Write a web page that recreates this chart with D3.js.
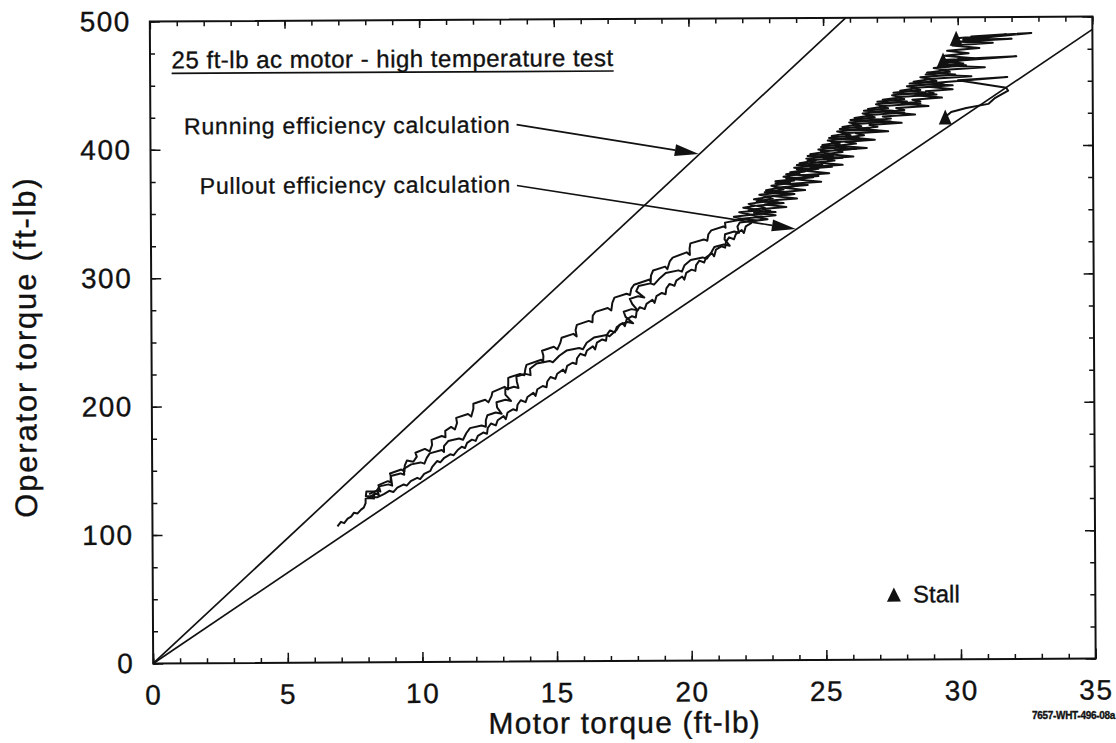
<!DOCTYPE html>
<html>
<head>
<meta charset="utf-8">
<title>Operator torque vs motor torque</title>
<script src="https://cdn.jsdelivr.net/npm/d3@7/dist/d3.min.js"></script>
<style>
  body { margin: 0; background: #fff; }
  #chart svg { display: block; }
  text { font-family: "Liberation Sans", Arial, Helvetica, sans-serif; fill: #111; stroke: #111; stroke-width: 0.35px; }
</style>
</head>
<body>
<div id="chart"></div>
<script>
// 25 ft-lb ac motor, high temperature test: operator torque against motor torque
var xTickLabels = [0, 5, 10, 15, 20, 25, 30, 35];
var yTickLabels = [0, 100, 200, 300, 400, 500];

// efficiency calculation lines [motor torque, operator torque]
var runningLine = [[0, 0], [25.84, 500]];
var pulloutLine = [[0, 0], [35, 490]];

// stall at the end of each run
var stallPoints = [[29.94, 483.6], [29.45, 466.7], [29.52, 422.3]];

// test runs [motor torque, operator torque]
var run1 = [
  [8.05,131],[8.37,134],[8.47,133],[8.4,138],[8.75,141],[8.85,140],[8.86,145],[8.83,147],[9.25,150],[9.37,148.5],
  [9.38,153],[9.46,157],[9.7,156],[9.83,160],[9.78,163],[10.13,166],[10.31,164],[10.4,169],[10.38,173],[10.76,176],
  [10.9,175],[10.89,180],[11.11,183],[11.25,181],[11.33,186],[11.3,190],[11.74,193],[11.86,191],[11.94,197],[11.94,201],
  [12.38,204],[12.5,202],[12.62,207],[12.65,210],[13.1,214],[13.23,212],[13.24,217],[13.24,221],[13.68,224],[13.84,223],
  [13.88,228],[13.92,231],[14.47,235],[14.54,233],[14.55,238],[14.5,242],[14.94,245],[15.07,243],[15.18,248],[15.23,252],
  [15.67,255],[15.79,253],[15.75,258],[15.8,262],[16.24,265],[16.38,264],[16.39,269],[16.49,272],[16.95,275],[17.08,273],
  [17.12,279],[17.2,283],[17.65,286],[17.78,285],[17.83,290],[17.93,293],[18.51,297],[18.55,295],[18.56,300],[18.64,304],
  [19.09,307],[19.17,305],[19.26,311],[19.37,314],[19.89,318],[20.01,316],[20.0,321],[20.03,325],[20.53,328],[20.66,327],
  [20.7,332],[20.81,335],[21.26,338],[21.34,337],[21.32,341],
  [22.0,343.5],[21.65,345.5],[22.3,347],[21.85,349],[22.65,350.5],[22.0,352.5],[22.45,354],[22.2,355.5],[22.95,357.5],[22.4,359],
  [23.0,361],[22.6,362.5],[23.55,364.5],[22.85,366],[23.35,368],[23.05,369.5],[23.75,371.5],[23.2,373],[24.2,375],[23.5,376.5],
  [24.1,378.5],[23.75,380],[24.55,382],[23.9,383.5],[24.95,385.5],[24.1,387],[24.7,389],[24.35,390.5],[25.35,392.5],[24.5,394],
  [25.15,396],[24.8,397.5],[25.85,399.5],[24.95,401],[25.6,403],[25.15,404.5],[26.3,406.5],[25.3,408],[25.9,410],[25.5,411.5],
  [26.7,413.5],[25.7,415],[26.3,417],[25.95,418.5],[27.2,420.5],[26.15,422],[26.8,424],[26.45,425.5],[27.6,427.5],[26.65,429],
  [27.3,431],[26.95,432.5],[28.1,434.5],[27.2,436],[27.9,438],[27.55,439.5],[28.8,441.5],[27.85,443],[28.5,445],[28.1,446.5],
  [29.4,448.5],[28.35,450],[29.0,452],[28.6,453.5],[29.9,455.5],[28.85,457],[29.6,459],[29.1,460.5],[30.3,462.5],[29.35,464],
  [30.6,468],[29.5,470],[30.4,472],[29.6,474],[30.8,476],[29.8,478],[31.3,480],[30.0,481],[32.0,483],[30.2,482.5],
  [32.73,487.5],[30.5,485],[31.8,486.5],[29.94,483.6]
];

var run2 = [
  [8.0,128],[8.31,131.5],[8.42,130],[8.35,134],[8.43,137],[8.77,138.5],[8.91,137.5],[8.88,142],[8.86,145],[9.22,147],
  [9.36,146],[9.34,150.5],[9.62,154],[9.97,155.5],[10.11,154.5],[10.2,159],[10.31,162.5],[10.76,165],[10.84,163.5],[10.84,168],
  [11.0,172],[11.4,174],[11.55,173],[11.67,178],[11.81,182],[12.24,184],[12.4,183],[12.4,188],[12.46,192],[12.77,194],
  [12.99,193],[12.82,198],[12.8,202],[13.13,204],[13.34,203],[13.13,208],[13.13,212],[13.45,214],[13.62,213],[13.56,218],
  [13.54,222],[13.88,224],[14.07,223],[14.05,228],[14.3,232],[14.78,234],[14.9,233],[15.14,238],[15.41,242],[15.88,244],
  [16.02,243],[16.16,248],[16.43,252],[16.9,254],[17.01,253],[17.28,258],[17.39,262],[17.68,264],[17.89,263],[17.61,268],
  [17.54,272],[17.83,274],[18.06,273],[17.86,278],[17.77,282],[18.08,284],[18.31,283],[18.01,288],[18.1,292],[18.54,294],
  [18.67,293],[18.89,298],[19.11,302],[19.58,304],[19.71,303],[19.81,308],[20.04,312],[20.48,314],[20.64,313],[20.81,318],
  [20.92,322],[21.27,324],[21.49,323],[21.3,328],[21.32,332],[21.66,334],[21.84,333],[21.78,338],[21.87,341],
  [22.5,342.5],[21.95,344],[22.7,345.5],[22.3,347],[23.2,349],[22.2,350.5],[22.8,352.5],[22.5,354],[23.5,356],[22.5,357.5],
  [23.1,359.5],[22.8,361],[23.9,363],[22.8,364.5],[23.5,366.5],[23.2,368],[24.4,370],[23.2,371.5],[23.9,373.5],[23.6,375],
  [24.8,377],[23.6,378.5],[24.3,380.5],[24.0,382],[25.3,384],[24.0,385.5],[24.7,387.5],[24.4,389],[25.7,391],[24.4,392.5],
  [25.2,394.5],[24.9,396],[26.2,398],[24.9,399.5],[25.6,401.5],[25.3,403],[26.6,405],[25.2,406.5],[26.0,408.5],[25.7,410],
  [27.0,412],[25.6,413.5],[26.4,415.5],[26.1,417],[27.5,419],[26.0,420.5],[26.9,422.5],[26.6,424],[28.0,426],[26.5,427.5],
  [27.4,429.5],[27.1,431],[28.6,433],[27.0,434.5],[28.0,436.5],[27.7,438],[29.2,440],[27.6,441.5],[28.6,443.5],[28.3,445],
  [29.8,447],[28.2,448.5],[29.2,450.5],[28.9,452],[30.5,454],[28.8,455.5],[29.7,457.5],[29.4,459],[31.0,461],[29.3,462.5],
  [30.2,464],[29.6,465.5],[32.17,469.4],[30.0,467.5],[31.2,468.5],[29.45,466.7]
];

var run3 = [
  [6.87,106],[7.0,109.5],[7.12,108.5],[7.25,112],[7.38,113.5],[7.48,116.5],[7.62,116],[7.75,119],[7.85,120.5],[7.92,124],
  [7.92,127.5],[8.05,128],[8.23,127.5],[8.25,133],[7.95,133],[7.93,129.5],[8.35,128.5],[8.6,131],[8.8,133.5],[8.95,132.5],
  [9.1,136],[9.34,138.4],[9.45,137.5],[9.6,141],[9.84,143.5],[9.95,142.5],[10.1,146.5],[10.33,148.8],[10.4,152],[10.58,156.5],
  [10.7,155.5],[10.85,159],[11.07,161.7],[11.2,161],[11.35,165],[11.5,167.5],[11.62,166.5],[11.7,170.5],[11.88,173],[12.02,172],
  [12.1,176],[12.3,178.5],[12.44,177.5],[12.47,182],[12.59,185.5],[12.77,184],[12.84,188],[13.06,191.2],[13.14,188.8],
  [13.21,194],[13.41,196.5],[13.55,195.5],[13.58,200],[13.7,203.5],[13.88,202],[13.95,206],[14.17,209.2],[14.25,206.8],
  [14.32,212],[14.52,214.5],[14.66,213.5],[14.69,218],[14.81,221.5],[14.99,220],[15.06,224],[15.28,227.2],[15.36,224.8],
  [15.43,230],[15.63,232.5],[15.77,231.5],[15.8,236],[15.92,239.5],[16.1,238],[16.17,242],[16.39,245.2],[16.47,242.8],
  [16.54,248],[16.74,250.5],[16.88,249.5],[16.91,254],[17.03,257.5],[17.21,256],[17.28,260],[17.5,263.2],[17.58,260.8],
  [17.65,266],[17.85,268.5],[17.99,267.5],[18.02,272],[18.14,275.5],[18.32,274],[18.39,278],[18.61,281.2],[18.69,278.8],
  [18.76,284],[18.96,286.5],[19.1,285.5],[19.13,290],[19.25,293.5],[19.43,292],[19.5,296],[19.72,299.2],[19.8,296.8],
  [19.87,302],[20.07,304.5],[20.21,303.5],[20.24,308],[20.36,311.5],[20.54,310],[20.61,314],[20.83,317.2],[20.91,314.8],
  [20.98,320],[21.18,322.5],[21.32,321.5],[21.35,326],[21.47,329.5],[21.65,328],[21.72,332],[21.94,335.2],[22.02,332.8],
  [22.09,338],[22.29,340.5],
  [22.3,342],[22.9,343.5],[22.5,345],[23.2,346.5],[22.4,348.5],[23.0,350],[22.7,351.5],[23.6,353],[22.8,355],[23.3,356.5],
  [23.0,358],[24.0,359.5],[23.1,361.5],[23.9,363],[23.4,364.5],[24.3,366],[23.5,368],[24.0,369.5],[23.8,371],[24.9,372.5],
  [23.9,374.5],[24.6,376],[24.2,377.5],[25.2,379],[24.3,381],[24.8,382.5],[24.5,384],[25.7,385.5],[24.7,387.5],[25.4,389],
  [25.0,390.5],[26.1,392],[25.1,394],[25.7,395.5],[25.4,397],[26.6,398.5],[25.5,400.5],[26.2,402],[25.8,403.5],[26.9,405],
  [25.9,407],[26.5,408.5],[26.2,410],[27.4,411.5],[26.3,413.5],[27.0,415],[26.7,416.5],[27.9,418],[26.8,420],[27.5,421.5],
  [27.2,423],[28.4,424.5],[27.3,426.5],[28.0,428],[27.7,429.5],[28.9,431],[27.9,433],[28.6,434.5],[28.3,436],[29.4,437.5],
  [28.4,439.5],[29.1,441],[28.8,442.5],[29.8,444],[28.9,446],[29.5,447.5],[29.2,449],[31.83,453.3],[30.0,450.9],[31.79,444.9],
  [31.86,442.6],[31.38,437.1],[31.12,432.4],[30.3,429.3],[29.74,426.2],[29.52,422.3]
];

(function(d3) {
  'use strict';

  var width = 1116;
  var height = 743;
  var left = 151.5, right = 1094, top = 19, bottom = 661;

  var x = d3.scaleLinear().domain([0, 35]).range([left, right]);
  var y = d3.scaleLinear().domain([0, 500]).range([bottom, top]);

  var svg = d3.select('#chart')
    .append('svg')
    .attr('width', width)
    .attr('height', height);

  svg.append('rect')
    .attr('width', width)
    .attr('height', height)
    .attr('fill', '#fff');

  // the scanned page sits a little crooked
  var g = svg.append('g')
    .attr('transform', 'rotate(-0.3 623 340)');

  var xMinor = d3.range(0, 36, 1);
  var yMinor = d3.range(0, 501, 25);

  function tidy(sel) {
    sel.select('.domain').remove();
    sel.selectAll('.tick line').attr('stroke', '#111').attr('stroke-width', 1.5);
    sel.selectAll('.tick text').attr('font-size', 28).style('letter-spacing', '1.5px');
  }

  // bottom
  g.append('g')
    .attr('transform', 'translate(0,' + bottom + ')')
    .call(d3.axisBottom(x).tickValues(xMinor).tickSize(-5).tickFormat(''))
    .call(tidy);
  g.append('g')
    .attr('transform', 'translate(0,' + bottom + ')')
    .call(d3.axisBottom(x).tickValues(xTickLabels).tickSize(-10).tickPadding(21).tickFormat(d3.format('d')))
    .call(tidy);

  // top
  g.append('g')
    .attr('transform', 'translate(0,' + top + ')')
    .call(d3.axisTop(x).tickValues(xMinor).tickSize(-5).tickFormat(''))
    .call(tidy);
  g.append('g')
    .attr('transform', 'translate(0,' + top + ')')
    .call(d3.axisTop(x).tickValues(xTickLabels).tickSize(-8).tickFormat(''))
    .call(tidy);

  // left
  g.append('g')
    .attr('transform', 'translate(' + left + ',0)')
    .call(d3.axisLeft(y).tickValues(yMinor).tickSize(-5).tickFormat(''))
    .call(tidy);
  g.append('g')
    .attr('transform', 'translate(' + left + ',0)')
    .call(d3.axisLeft(y).tickValues(yTickLabels).tickSize(-10).tickPadding(19).tickFormat(d3.format('d')))
    .call(tidy);

  // right
  g.append('g')
    .attr('transform', 'translate(' + right + ',0)')
    .call(d3.axisRight(y).tickValues(yMinor).tickSize(-5).tickFormat(''))
    .call(tidy);
  g.append('g')
    .attr('transform', 'translate(' + right + ',0)')
    .call(d3.axisRight(y).tickValues(yTickLabels).tickSize(-10).tickFormat(''))
    .call(tidy);

  g.append('rect')
    .attr('x', left)
    .attr('y', top)
    .attr('width', right - left)
    .attr('height', bottom - top)
    .attr('fill', 'none')
    .attr('stroke', '#111')
    .attr('stroke-width', 2);

  // axis titles
  g.append('text')
    .attr('x', (left + right) / 2)
    .attr('y', 733)
    .attr('text-anchor', 'middle')
    .attr('font-size', 30)
    .style('letter-spacing', '1.2px')
    .text('Motor torque (ft-lb)');

  g.append('text')
    .attr('transform', 'translate(36,' + ((top + bottom) / 2 + 4) + ') rotate(-90)')
    .attr('text-anchor', 'middle')
    .attr('font-size', 31)
    .style('letter-spacing', '1.8px')
    .text('Operator torque (ft-lb)');

  var line = d3.line()
    .x(function(d) { return x(d[0]); })
    .y(function(d) { return y(d[1]); });

  g.selectAll('.calc')
    .data([runningLine, pulloutLine])
    .enter()
    .append('path')
    .attr('class', 'calc')
    .attr('d', line)
    .attr('fill', 'none')
    .attr('stroke', '#111')
    .attr('stroke-width', 1.7);

  g.selectAll('.run')
    .data([run1, run2, run3])
    .enter()
    .append('path')
    .attr('class', 'run')
    .attr('d', line)
    .attr('fill', 'none')
    .attr('stroke', '#111')
    .attr('stroke-width', 2)
    .attr('stroke-linejoin', 'round');

  function triangle(cx, cy, w, h) {
    return 'M' + cx + ',' + (cy - h / 2) +
      'L' + (cx + w / 2) + ',' + (cy + h / 2) +
      'L' + (cx - w / 2) + ',' + (cy + h / 2) + 'Z';
  }

  g.selectAll('.stall')
    .data(stallPoints)
    .enter()
    .append('path')
    .attr('class', 'stall')
    .attr('d', function(d) { return triangle(x(d[0]), y(d[1]), 13, 15); })
    .attr('fill', '#111');

  // title, underlined
  var title = g.append('text')
    .attr('x', x(0.8))
    .attr('y', y(463.4))
    .attr('font-size', 24)
    .style('letter-spacing', '0.5px')
    .text('25 ft-lb ac motor - high temperature test');
  var tw = title.node().getComputedTextLength();
  g.append('line')
    .attr('x1', x(0.8))
    .attr('x2', x(0.8) + tw)
    .attr('y1', y(463.4) + 5)
    .attr('y2', y(463.4) + 5)
    .attr('stroke', '#111')
    .attr('stroke-width', 1.6);

  // arrows to the efficiency lines
  var notes = [
    { label: 'Running efficiency calculation', at: [13.38, 412], from: [13.6, 418.2], to: [20.36, 394.6] },
    { label: 'Pullout efficiency calculation', at: [13.38, 365.5], from: [13.6, 370.7], to: [23.95, 335.7] }
  ];

  notes.forEach(function(n) {
    g.append('text')
      .attr('x', x(n.at[0]))
      .attr('y', y(n.at[1]))
      .attr('text-anchor', 'end')
      .attr('font-size', 23)
      .style('letter-spacing', '0.8px')
      .text(n.label);

    var x1 = x(n.from[0]), y1 = y(n.from[1]);
    var x2 = x(n.to[0]), y2 = y(n.to[1]);
    var a = Math.atan2(y2 - y1, x2 - x1);
    var len = 24, half = 6;
    var bx = x2 - len * Math.cos(a), by = y2 - len * Math.sin(a);

    g.append('line')
      .attr('x1', x1).attr('y1', y1)
      .attr('x2', bx).attr('y2', by)
      .attr('stroke', '#111')
      .attr('stroke-width', 1.6);

    g.append('path')
      .attr('d', 'M' + x2 + ',' + y2 +
        'L' + (bx + half * Math.sin(a)) + ',' + (by - half * Math.cos(a)) +
        'L' + (bx - half * Math.sin(a)) + ',' + (by + half * Math.cos(a)) + 'Z')
      .attr('fill', '#111');
  });

  // legend
  g.append('path')
    .attr('d', triangle(x(27.52), y(50.6), 14, 14))
    .attr('fill', '#111');
  g.append('text')
    .attr('x', x(28.23))
    .attr('y', y(44.4))
    .attr('font-size', 24)
    .text('Stall');

  // figure number
  svg.append('text')
    .attr('x', 1115)
    .attr('y', 719)
    .attr('text-anchor', 'end')
    .attr('font-size', 10)
    .attr('font-weight', 'bold')
    .style('letter-spacing', '-0.3px')
    .text('7657-WHT-496-08a');

})(window.d3);
</script>
</body>
</html>
